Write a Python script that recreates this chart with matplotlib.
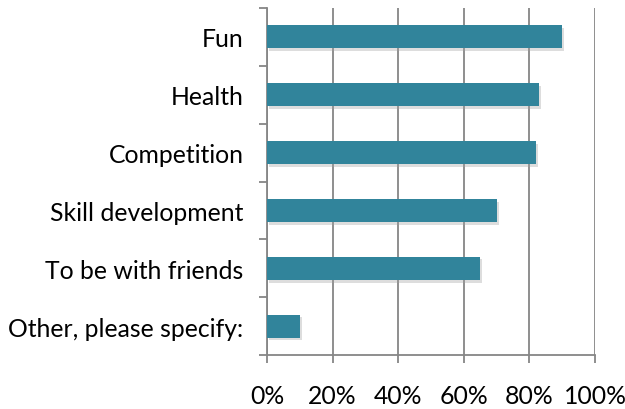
import matplotlib
matplotlib.use("Agg")
import matplotlib.pyplot as plt
import matplotlib.patheffects as pe
from matplotlib.ticker import FixedLocator, PercentFormatter

categories = ["Fun", "Health", "Competition", "Skill development",
              "To be with friends", "Other, please specify:"]
values = [0.90, 0.83, 0.82, 0.70, 0.65, 0.10]
xticks = [0, 0.2, 0.4, 0.6, 0.8, 1.0]

plt.rcParams['font.family'] = ['Lato', 'DejaVu Sans']

fig = plt.figure(figsize=(6.25, 4.1), dpi=100)
ax = fig.add_axes([267/625, 1-356/410, (595-267)/625, (356-9)/410])

n = len(categories)
ypos = list(range(n))[::-1]
bars = ax.barh(ypos, values, height=0.4, color="#31849B", zorder=3)
for b in bars:
    b.set_path_effects([pe.SimplePatchShadow(offset=(1.5, -2), shadow_rgbFace="#a0a0a0", alpha=0.35), pe.Normal()])

ax.set_xlim(0, 1)
ax.set_ylim(-0.5, n - 0.5)
ax.set_xticks(xticks)
ax.xaxis.set_major_formatter(PercentFormatter(1.0, decimals=0))
ax.set_yticks(ypos)
ax.set_yticklabels(categories)
ax.yaxis.set_minor_locator(FixedLocator([i - 0.5 for i in range(n + 1)]))

gray = "#868686"
ax.grid(axis="x", color=gray, linewidth=1.3, zorder=0)
for s in ["top", "right"]:
    ax.spines[s].set_visible(False)
for s in ["left", "bottom"]:
    ax.spines[s].set_color(gray)
    ax.spines[s].set_linewidth(1.3)

ax.tick_params(axis="y", which="major", length=0, pad=17, labelsize=17.8)
ax.tick_params(axis="y", which="minor", length=6, width=1.3, color=gray)
ax.tick_params(axis="x", which="major", length=6, width=1.3, color=gray, pad=15, labelsize=17.8)

fig.savefig("out.png", dpi=100)
